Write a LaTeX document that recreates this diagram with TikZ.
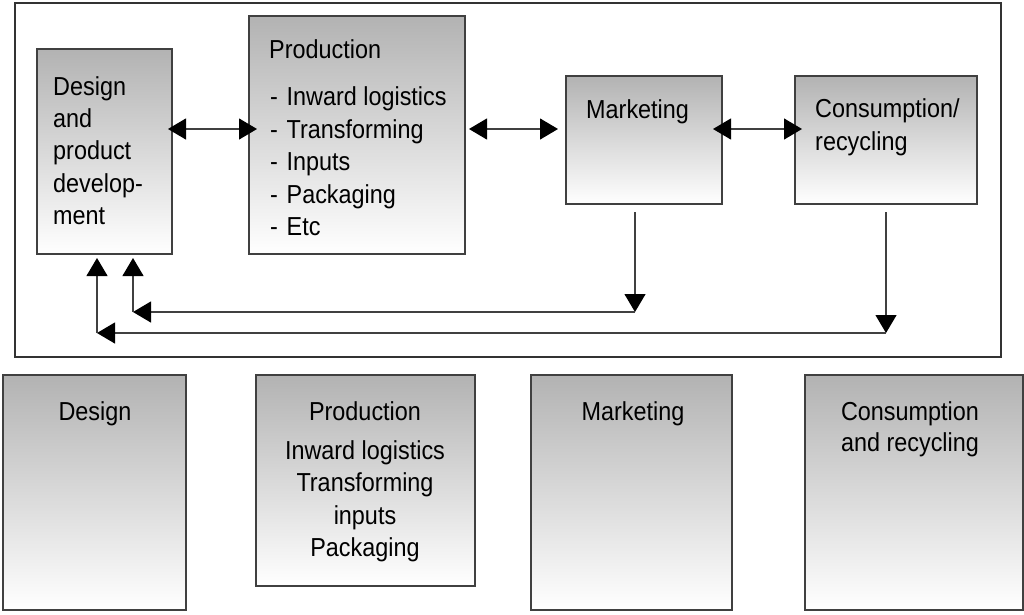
\documentclass[tikz,border=0pt]{standalone}
\usepackage{fontspec}
\setmainfont{Liberation Sans}[FakeStretch=0.9]
\usetikzlibrary{arrows.meta}
\begin{document}
\begin{tikzpicture}[x=1pt,y=-1pt,
  box/.style={draw=black!75, line width=1.3pt, top color=black!30, bottom color=white,
    anchor=north west, inner sep=0pt, outer sep=0pt},
  frm/.style={draw=black!80, line width=1.2pt, anchor=north west, inner sep=0pt, outer sep=0pt},
  lbl/.style={inner sep=0pt, anchor=base west, font=\fontsize{26}{32}\selectfont},
  clbl/.style={lbl, anchor=base},
  arr/.style={draw=black!75, line width=1.2pt, -{Triangle[length=18pt,width=21pt,color=black]}},
  dbl/.style={draw=black!75, line width=1.2pt, {Triangle[length=18pt,width=21pt,color=black]}-{Triangle[length=18pt,width=21pt,color=black]}}]
\useasboundingbox (0,0) rectangle (1024,614);
\fill[white] (0,0) rectangle (1024,614);

% frame
\node[frm, minimum width=986pt, minimum height=354pt] (frame) at (15,3) {};

% top boxes
\node[box, minimum width=135pt, minimum height=205pt] (des) at (37,49) {};
\node[box, minimum width=216pt, minimum height=238pt] (pro) at (249,16) {};
\node[box, minimum width=156pt, minimum height=128pt] (mkt) at (566,76) {};
\node[box, minimum width=182pt, minimum height=128pt] (con) at (795,76) {};

% top texts
\node[lbl] (t1) at (53,95) {Design};
\node[lbl] (t2) at (53,127) {and};
\node[lbl] (t3) at (53,159) {product};
\node[lbl] (t4) at (53,192) {develop-};
\node[lbl] (t5) at (53,224) {ment};

\node[lbl] (p0) at (269,58) {Production};
\node[lbl] (p1) at (270,105) {-\,\,Inward logistics};
\node[lbl] (p2) at (270,138) {-\,\,Transforming};
\node[lbl] (p3) at (270,170.5) {-\,\,Inputs};
\node[lbl] (p4) at (270,203) {-\,\,Packaging};
\node[lbl] (p5) at (270,235) {-\,\,Etc};

\node[lbl] (m0) at (586,118) {Marketing};
\node[lbl] (c0) at (815,117.5) {Consumption/};
\node[lbl] (c1) at (815,150) {recycling};

% horizontal double arrows
\draw[dbl] ([shift={(-4,80)}]des.north east) -- ([shift={(8,113)}]pro.north west);
\draw[dbl] ([shift={(4,113)}]pro.north east) -- ([shift={(-8,53)}]mkt.north west);
\draw[dbl] ([shift={(-9,53)}]mkt.north east) -- ([shift={(7,53)}]con.north west);

% feedback loops
\coordinate (m1) at (635,312);
\coordinate (d1) at (133,312);
\coordinate (k1) at (886,333);
\coordinate (d2) at (97,333);
\draw[arr] ([shift={(69,8)}]mkt.south west) -- (m1);
\draw[arr] (m1) -- (d1);
\draw[arr] (d1) -- ([shift={(96,4)}]des.south west);
\draw[arr] ([shift={(91,8)}]con.south west) -- (k1);
\draw[arr] (k1) -- (d2);
\draw[arr] (d2) -- ([shift={(60,4)}]des.south west);

% bottom boxes
\node[box, minimum width=183pt, minimum height=235pt] (bdes) at (3,375) {};
\node[box, minimum width=219pt, minimum height=211pt] (bpro) at (256,375) {};
\node[box, minimum width=201pt, minimum height=235pt] (bmkt) at (531,375) {};
\node[box, minimum width=218pt, minimum height=235pt] (bcon) at (805,375) {};

\node[clbl] (bt1) at (95,420) {Design};
\node[clbl] (bp0) at (365,420) {Production};
\node[clbl] (bp1) at (365,459) {Inward logistics};
\node[clbl] (bp2) at (365,491.5) {Transforming};
\node[clbl] (bp3) at (365,524) {inputs};
\node[clbl] (bp4) at (365,556) {Packaging};
\node[clbl] (bm0) at (633,420) {Marketing};
\node[clbl] (bc0) at (910,420) {Consumption};
\node[clbl] (bc1) at (910,451) {and recycling};
\end{tikzpicture}
\end{document}
